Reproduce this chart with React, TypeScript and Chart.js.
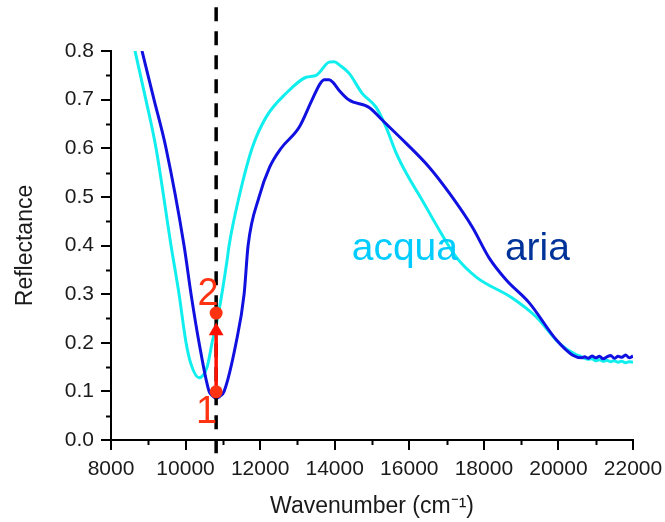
import React, { useEffect, useRef } from 'react';
import { Chart, registerables } from 'chart.js';

Chart.register(...registerables);

// ---- data ----
const ariaX = [8832, 9154, 9476, 9959, 10147, 10362, 10630, 10720, 10818, 10920, 11033, 11355, 11570, 11677, 11972, 12255, 12563, 13046, 13395, 13610, 13720, 13850, 13960, 14120, 14388, 14924, 15273, 15917, 16534, 17071, 17689, 18145, 18601, 19218, 19943, 20372, 20640, 20700, 20800, 20900, 21000, 21100, 21200, 21300, 21400, 21500, 21600, 21700, 21800, 21900, 22000];
const ariaY = [0.80, 0.70, 0.60, 0.40, 0.30, 0.20, 0.10, 0.091, 0.086, 0.09, 0.10, 0.20, 0.30, 0.40, 0.50, 0.561, 0.60, 0.643, 0.70, 0.733, 0.741, 0.741, 0.735, 0.719, 0.699, 0.684, 0.658, 0.610, 0.561, 0.508, 0.438, 0.374, 0.329, 0.282, 0.206, 0.175, 0.169, 0.171, 0.168, 0.173, 0.169, 0.172, 0.167, 0.171, 0.174, 0.168, 0.172, 0.170, 0.175, 0.169, 0.173];

const acquaX = [8644, 8935, 9208, 9610, 9825, 10013, 10150, 10362, 10577, 10711, 10899, 11114, 11167, 11435, 11784, 12160, 12697, 13233, 13502, 13850, 13985, 14150, 14388, 14736, 15112, 15380, 15649, 15917, 16346, 16803, 17259, 17796, 18762, 19406, 20023, 20480, 20600, 20700, 20800, 20900, 21000, 21100, 21200, 21300, 21400, 21500, 21600, 21700, 21800, 21900, 22000];
const acquaY = [0.80, 0.70, 0.60, 0.40, 0.30, 0.20, 0.155, 0.128, 0.15, 0.20, 0.267, 0.37, 0.40, 0.50, 0.60, 0.664, 0.713, 0.746, 0.75, 0.777, 0.778, 0.77, 0.754, 0.713, 0.684, 0.643, 0.590, 0.549, 0.493, 0.432, 0.376, 0.335, 0.292, 0.253, 0.199, 0.175, 0.172, 0.168, 0.166, 0.167, 0.163, 0.165, 0.162, 0.164, 0.161, 0.163, 0.160, 0.162, 0.159, 0.161, 0.160];

const markerX = 10820;
const dashedY = [-0.027, 0.89];
const pointValues = [0.099, 0.261];
const arrowY = [0.099, 0.224];

const xMinorTicks = [9000, 11000, 13000, 15000, 17000, 19000, 21000];
const yMinorTicks = [0.05, 0.15, 0.25, 0.35, 0.45, 0.55, 0.65, 0.75];

const FONT = "'Liberation Sans', Arial, Helvetica, sans-serif";

const overlayPlugin = {
  id: 'overlay',
  afterDraw(chart: any) {
    const { ctx, scales } = chart;
    const x = scales.x;
    const y = scales.y;
    ctx.save();
    ctx.strokeStyle = '#000';
    ctx.lineWidth = 2;
    xMinorTicks.forEach((v) => {
      const px = Math.round(x.getPixelForValue(v)) + 0.5;
      ctx.beginPath();
      ctx.moveTo(px, y.bottom);
      ctx.lineTo(px, y.bottom + 5);
      ctx.stroke();
    });
    yMinorTicks.forEach((v) => {
      const py = Math.round(y.getPixelForValue(v)) + 0.5;
      ctx.beginPath();
      ctx.moveTo(x.left, py);
      ctx.lineTo(x.left - 5, py);
      ctx.stroke();
    });

    ctx.textBaseline = 'alphabetic';
    ctx.textAlign = 'left';
    ctx.font = `39px ${FONT}`;
    ctx.fillStyle = '#00CCFF';
    ctx.fillText('acqua', x.getPixelForValue(14456), y.getPixelForValue(0.37));
    ctx.fillStyle = '#003399';
    ctx.fillText('aria', x.getPixelForValue(18564), y.getPixelForValue(0.37));

    ctx.textAlign = 'center';
    ctx.font = `38px ${FONT}`;
    ctx.fillStyle = '#FF3311';
    ctx.fillText('1', x.getPixelForValue(10564), y.getPixelForValue(0.034));
    ctx.fillText('2', x.getPixelForValue(10600), y.getPixelForValue(0.277));
    ctx.restore();
  },
};

export default function App() {
  const ref = useRef<HTMLCanvasElement | null>(null);

  useEffect(() => {
    document.body.style.margin = '0';
    if (!ref.current) return;
    const chart = new Chart(ref.current, {
      type: 'line',
      data: {
        datasets: [
          {
            type: 'scatter',
            label: 'points',
            data: pointValues.map((v) => ({ x: markerX, y: v })),
            pointRadius: 6.5,
            pointBackgroundColor: '#FF3311',
            pointBorderWidth: 0,
            showLine: false,
          } as any,
          {
            type: 'scatter',
            label: 'arrowhead',
            data: [{ x: markerX, y: arrowY[1] }],
            pointStyle: 'triangle',
            pointRadius: 8.5,
            pointBackgroundColor: '#FF1100',
            pointBorderWidth: 0,
            showLine: false,
          } as any,
          {
            label: 'arrow',
            data: arrowY.map((v) => ({ x: markerX, y: v })),
            borderColor: '#FF1100',
            borderWidth: 3.5,
            pointRadius: 0,
          },
          {
            label: 'dashed',
            data: dashedY.map((v) => ({ x: markerX, y: v })),
            borderColor: '#000',
            borderWidth: 3.5,
            borderDash: [14, 10],
            pointRadius: 0,
            clip: false,
          } as any,
          {
            label: 'aria',
            data: ariaX.map((v, i) => ({ x: v, y: ariaY[i] })),
            borderColor: '#1010E0',
            borderWidth: 3,
            pointRadius: 0,
            cubicInterpolationMode: 'monotone',
          },
          {
            label: 'acqua',
            data: acquaX.map((v, i) => ({ x: v, y: acquaY[i] })),
            borderColor: '#11EEEE',
            borderWidth: 3,
            pointRadius: 0,
            cubicInterpolationMode: 'monotone',
          },
        ],
      },
      options: {
        responsive: false,
        animation: false,
        events: [],
        layout: { padding: { left: 0, right: 32, top: 51, bottom: 0 } },
        plugins: { legend: { display: false }, tooltip: { enabled: false } },
        scales: {
          x: {
            type: 'linear',
            min: 8000,
            max: 22000,
            afterFit: (s: any) => {
              s.height = 82;
              s.paddingLeft = 0;
              s.paddingRight = 0;
            },
            ticks: {
              stepSize: 2000,
              color: '#1a1a1a',
              font: { family: FONT, size: 21 },
              padding: 7,
              maxRotation: 0,
              callback: (v: any) => String(v),
            },
            grid: { drawOnChartArea: false, drawTicks: true, tickLength: 10, color: '#000', lineWidth: 2 },
            border: { display: true, color: '#000', width: 2 },
            title: {
              display: true,
              text: 'Wavenumber (cm⁻¹)',
              color: '#1a1a1a',
              font: { family: FONT, size: 23 },
              padding: { top: 0, bottom: 2 },
            },
          },
          y: {
            type: 'linear',
            min: 0,
            max: 0.8,
            afterFit: (s: any) => {
              s.width = 111;
              s.paddingTop = 0;
              s.paddingBottom = 0;
            },
            ticks: {
              stepSize: 0.1,
              color: '#1a1a1a',
              font: { family: FONT, size: 21 },
              padding: 7,
              callback: (v: any) => Number(v).toFixed(1),
            },
            grid: { drawOnChartArea: false, drawTicks: true, tickLength: 10, color: '#000', lineWidth: 2 },
            border: { display: true, color: '#000', width: 2 },
            title: {
              display: true,
              text: 'Reflectance',
              color: '#1a1a1a',
              font: { family: FONT, size: 23 },
              padding: { top: 12, bottom: 0 },
            },
          },
        },
      },
      plugins: [overlayPlugin],
    });
    return () => chart.destroy();
  }, []);

  return (
    <div style={{ width: 665, height: 522 }}>
      <canvas ref={ref} width={665} height={522} style={{ width: 665, height: 522, display: 'block' }} />
    </div>
  );
}
